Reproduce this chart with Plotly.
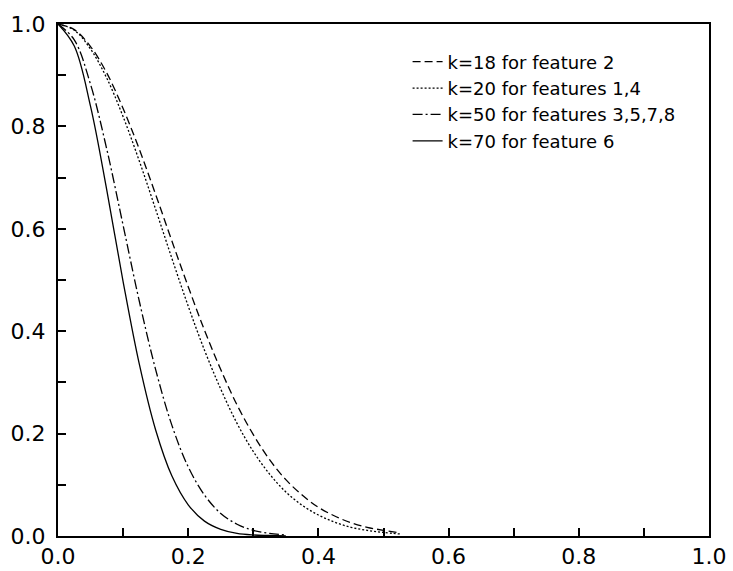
import plotly.graph_objects as go

x_wide = [0.0, 0.025, 0.05, 0.075, 0.1, 0.125, 0.15, 0.175, 0.2, 0.225, 0.25,
          0.275, 0.3, 0.325, 0.35, 0.375, 0.4, 0.425, 0.45, 0.475, 0.5, 0.525]
x_narrow = [0.0, 0.025, 0.05, 0.075, 0.1, 0.125, 0.15, 0.175, 0.2, 0.225, 0.25,
            0.275, 0.3, 0.325, 0.35]

# k=18 for feature 2 (dashed)
y_k18 = [1.0, 0.989, 0.956, 0.904, 0.835, 0.755, 0.667, 0.576, 0.487, 0.402, 0.325,
         0.256, 0.198, 0.149, 0.110, 0.080, 0.056, 0.039, 0.026, 0.017, 0.011, 0.006]
# k=20 for features 1,4 (dotted)
y_k20 = [1.0, 0.988, 0.951, 0.894, 0.819, 0.732, 0.638, 0.542, 0.449, 0.363, 0.287,
         0.220, 0.165, 0.121, 0.086, 0.060, 0.041, 0.027, 0.017, 0.011, 0.007, 0.004]
# k=50 for features 3,5,7,8 (dash-dot)
y_k50 = [1.0, 0.969, 0.882, 0.755, 0.607, 0.458, 0.325, 0.216, 0.135, 0.080, 0.044,
         0.023, 0.011, 0.005, 0.002]
# k=70 for feature 6 (solid)
y_k70 = [1.0, 0.957, 0.839, 0.675, 0.497, 0.335, 0.207, 0.117, 0.061, 0.029, 0.013,
         0.005, 0.002, 0.001, 0.0]

series_names = ["k=18 for feature 2", "k=20 for features 1,4",
                "k=50 for features 3,5,7,8", "k=70 for feature 6"]

tick_vals = [0.0, 0.2, 0.4, 0.6, 0.8, 1.0]
tick_text = ["0.0", "0.2", "0.4", "0.6", "0.8", "1.0"]

dashes = ["8px,4px", "2px,2px", "10px,3px,2px,3px", "solid"]

fig = go.Figure()
for xs, ys, name, dash in zip([x_wide, x_wide, x_narrow, x_narrow],
                              [y_k18, y_k20, y_k50, y_k70], series_names, dashes):
    fig.add_trace(go.Scatter(
        x=xs, y=ys, mode="lines", name=name,
        line=dict(color="black", width=1.3, dash=dash, shape="spline", smoothing=1.0),
    ))

axis_common = dict(
    range=[0, 1], showgrid=False, zeroline=False, automargin=False,
    showline=True, linecolor="black", linewidth=2, mirror=True,
    ticks="inside", ticklen=8, tickwidth=1.5, tickcolor="black",
    tickvals=tick_vals, ticktext=tick_text,
    tickfont=dict(family="DejaVu Sans", size=22, color="black"),
    minor=dict(ticks="inside", ticklen=8, tickwidth=1.5, tickcolor="black", dtick=0.1),
)

fig.update_layout(
    width=733, height=571,
    margin=dict(l=58, r=24, t=24, b=35),
    paper_bgcolor="white", plot_bgcolor="white",
    xaxis=dict(**axis_common),
    yaxis=dict(**axis_common, ticklabelstandoff=6),
    showlegend=True,
    legend=dict(
        x=0.537, y=0.962, xanchor="left", yanchor="top",
        bgcolor="rgba(0,0,0,0)", borderwidth=0,
        font=dict(family="DejaVu Sans", size=18, color="black"),
        tracegroupgap=0,
    ),
)

fig.write_html(
    "out.html",
    config={"displayModeBar": False},
    post_script="document.body.style.margin='0';document.body.style.overflow='hidden';",
)
